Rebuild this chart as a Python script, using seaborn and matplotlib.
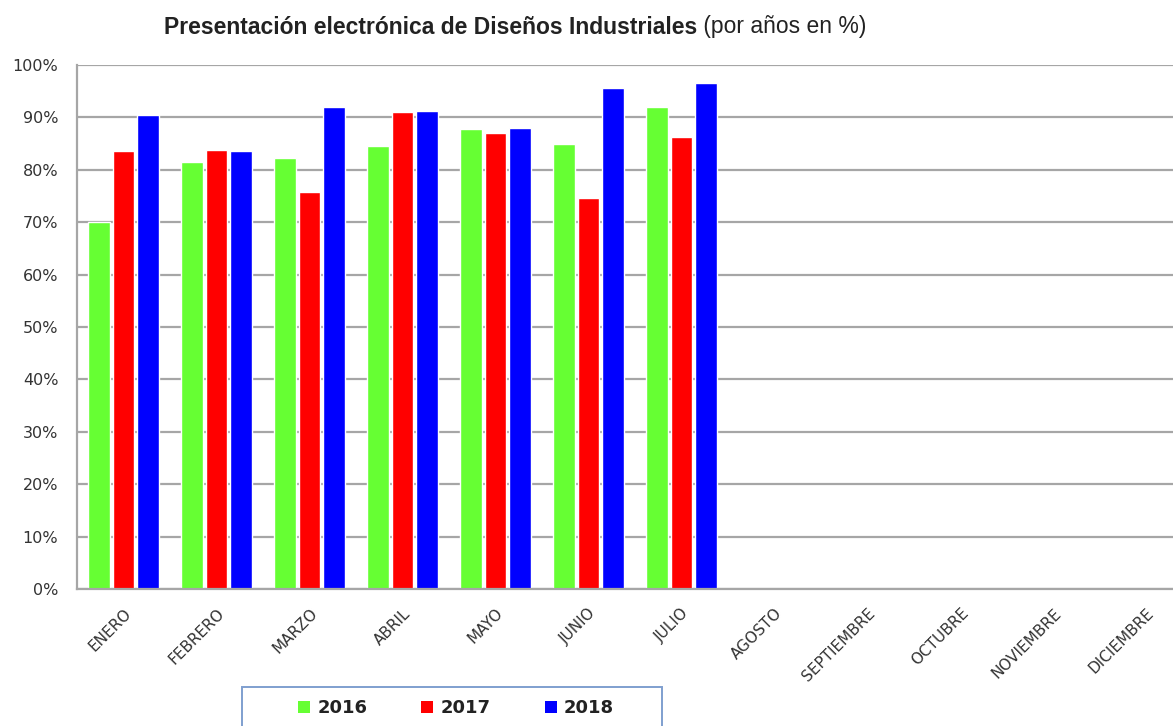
import pandas as pd
import seaborn as sns
import matplotlib.pyplot as plt
from matplotlib.patches import Patch, Rectangle
from matplotlib.ticker import FixedLocator, PercentFormatter

# Datos (porcentaje de presentación electrónica)
meses = ['ENERO', 'FEBRERO', 'MARZO', 'ABRIL', 'MAYO', 'JUNIO', 'JULIO',
         'AGOSTO', 'SEPTIEMBRE', 'OCTUBRE', 'NOVIEMBRE', 'DICIEMBRE']
anios = ['2016', '2017', '2018']
v2016 = [70.0, 81.4, 82.2, 84.6, 87.8, 84.9, 92.0]
v2017 = [83.5, 83.8, 75.7, 91.0, 87.0, 74.6, 86.3]
v2018 = [90.5, 83.6, 92.0, 91.2, 88.0, 95.7, 96.5]
colores = ['#66ff33', '#ff0000', '#0000ff']

# Tabla larga para seaborn
filas = []
for anio, valores in zip(anios, [v2016, v2017, v2018]):
    for mes, v in zip(meses, valores):
        filas.append({'mes': mes, 'anio': anio, 'valor': v})
df = pd.DataFrame(filas)

sns.set_style('white')
plt.rcParams['font.family'] = ['DejaVu Sans']

W, H = 1173, 726
fig = plt.figure(figsize=(W / 100, H / 100), dpi=100)
# el área del gráfico sigue un poco más allá del borde derecho (recortada)
ax = fig.add_axes([77 / W, 1 - 589 / H, 1116 / W, 524 / H])

sns.barplot(data=df, x='mes', y='valor', hue='anio', order=meses,
            hue_order=anios, palette=colores, width=0.79, gap=0.12,
            saturation=1, ax=ax, legend=False, errorbar=None)

gris = '#a6a6a6'
ax.set_ylim(0, 100)
ax.set_xlim(-0.5, 11.5)
ax.set_yticks(range(0, 101, 10))
ax.yaxis.set_major_formatter(PercentFormatter(decimals=0))
ax.grid(axis='y', color=gris, linewidth=1.6)
ax.set_axisbelow(True)
for lado in ['top', 'right']:
    ax.spines[lado].set_visible(False)
for lado in ['left', 'bottom']:
    ax.spines[lado].set_color(gris)
    ax.spines[lado].set_linewidth(1.6)

# etiquetas de meses sin marca, marcas entre categorías (estilo Excel)
ax.tick_params(axis='x', which='major', length=0, pad=12, labelsize=11,
               labelcolor='#333333')
ax.xaxis.set_minor_locator(FixedLocator([i - 0.5 for i in range(13)]))
ax.tick_params(axis='x', which='minor', length=4.5, width=1.4, color=gris)
ax.tick_params(axis='y', length=4.5, width=1.4, color=gris, labelsize=11.5,
               labelcolor='#333333', pad=9)
plt.setp(ax.get_xticklabels(), rotation=45, ha='right', rotation_mode='anchor')
ax.set_xlabel('')
ax.set_ylabel('')

# Título: parte en negrita + parte normal, centrado en conjunto
ty = 1 - 27 / H
t1 = fig.text(0, ty, 'Presentación electrónica de Diseños Industriales',
              fontsize=16.5, fontweight='bold', family='Liberation Sans',
              va='center', color='#222222')
t2 = fig.text(0, ty, ' (por años en %)', fontsize=16.5,
              family='Liberation Sans', va='center', color='#222222')
fig.canvas.draw()
w1 = t1.get_window_extent().width
w2 = t2.get_window_extent().width
x0 = 515 - (w1 + w2) / 2
t1.set_x(x0 / W)
t2.set_x((x0 + w1) / W)

# Leyenda: marco aparte (cortado por abajo) y entradas sin marco
marco = Rectangle((242 / W, -0.05), 420 / W, 1 - 687 / H + 0.05,
                  transform=fig.transFigure, facecolor='none',
                  edgecolor='#7f9fcf', linewidth=1.4)
fig.patches.append(marco)
manejadores = [Patch(facecolor=c, edgecolor='none') for c in colores]
leg = fig.legend(manejadores, anios, loc='center', ncol=3,
                 bbox_to_anchor=(456 / W, 1 - 708 / H),
                 frameon=False, handlelength=0.66, handleheight=0.66,
                 handletextpad=0.4, columnspacing=3.0, borderpad=0,
                 prop={'weight': 'bold', 'size': 13, 'family': 'DejaVu Sans'})
for txt in leg.get_texts():
    txt.set_color('#222222')

fig.savefig('out.png', dpi=100)
